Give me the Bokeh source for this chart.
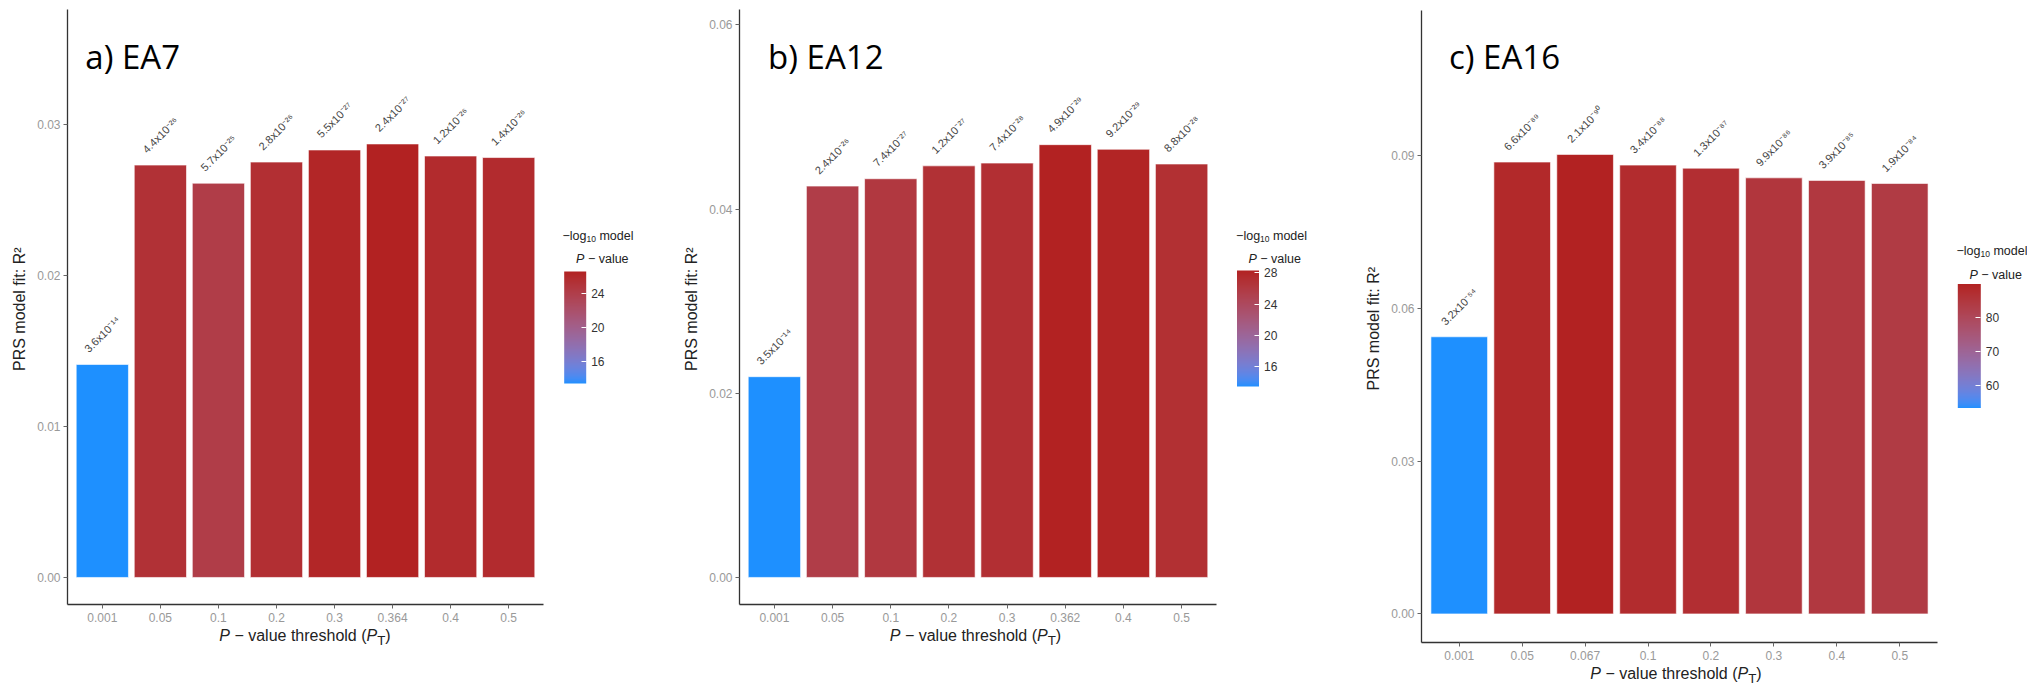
import math
from bokeh.plotting import figure
from bokeh.layouts import row, column
from bokeh.models import (ColumnDataSource, FactorRange, Range1d, FixedTicker,
                          NumeralTickFormatter, LinearColorMapper, ColorBar, Label,
                          BasicTickFormatter, Div, Spacer)
from bokeh.transform import transform
from bokeh.core.properties import value
from bokeh.embed import file_html
from bokeh.resources import INLINE

# ---------------- data ----------------
thresholds_a = ["0.001", "0.05", "0.1", "0.2", "0.3", "0.364", "0.4", "0.5"]
r2_a = [0.0141, 0.0273, 0.0261, 0.0275, 0.0283, 0.0287, 0.0279, 0.0278]
p_mant_a = [3.6, 4.4, 5.7, 2.8, 5.5, 2.4, 1.2, 1.4]
p_exp_a = [-14, -26, -25, -26, -27, -27, -26, -26]

thresholds_b = ["0.001", "0.05", "0.1", "0.2", "0.3", "0.362", "0.4", "0.5"]
r2_b = [0.0218, 0.0425, 0.0433, 0.0447, 0.0450, 0.0470, 0.0465, 0.0449]
p_mant_b = [3.5, 2.4, 7.4, 1.2, 7.4, 4.9, 9.2, 8.8]
p_exp_b = [-14, -26, -27, -27, -28, -29, -29, -28]

thresholds_c = ["0.001", "0.05", "0.067", "0.1", "0.2", "0.3", "0.4", "0.5"]
r2_c = [0.0544, 0.0887, 0.0902, 0.0881, 0.0875, 0.0856, 0.0851, 0.0845]
p_mant_c = [3.2, 6.6, 2.1, 3.4, 1.3, 9.9, 3.9, 1.9]
p_exp_c = [-54, -89, -90, -88, -87, -86, -85, -84]

yticks_a = [0.0, 0.01, 0.02, 0.03]
yticks_b = [0.0, 0.02, 0.04, 0.06]
yticks_c = [0.0, 0.03, 0.06, 0.09]
cticks_a = [16, 20, 24]
cticks_b = [16, 20, 24, 28]
cticks_c = [60, 70, 80]

# ---------------- colour helpers (CIELAB gradient, like ggplot) ----------------
def _lin(c):
    c = c / 255.0
    return c / 12.92 if c <= 0.04045 else ((c + 0.055) / 1.055) ** 2.4

def rgb2lab(rgb):
    r, g, b = [_lin(c) for c in rgb]
    X = (0.4124 * r + 0.3576 * g + 0.1805 * b) / 0.95047
    Y = 0.2126 * r + 0.7152 * g + 0.0722 * b
    Z = (0.0193 * r + 0.1192 * g + 0.9505 * b) / 1.08883
    f = lambda t: t ** (1 / 3) if t > 0.008856 else 7.787 * t + 16 / 116
    fx, fy, fz = f(X), f(Y), f(Z)
    return (116 * fy - 16, 500 * (fx - fy), 200 * (fy - fz))

def lab2hex(L, a, b):
    fy = (L + 16) / 116
    fx = fy + a / 500
    fz = fy - b / 200
    finv = lambda t: t ** 3 if t ** 3 > 0.008856 else (t - 16 / 116) / 7.787
    X = finv(fx) * 0.95047
    Y = finv(fy)
    Z = finv(fz) * 1.08883
    r = 3.2406 * X - 1.5372 * Y - 0.4986 * Z
    g = -0.9689 * X + 1.8758 * Y + 0.0415 * Z
    bb = 0.0557 * X - 0.2040 * Y + 1.0570 * Z
    def gam(c):
        c = max(0.0, min(1.0, c))
        return 12.92 * c if c <= 0.0031308 else 1.055 * c ** (1 / 2.4) - 0.055
    return "#%02x%02x%02x" % tuple(int(round(gam(c) * 255)) for c in (r, g, bb))

LOW = rgb2lab((30, 144, 255))    # dodgerblue
HIGH = rgb2lab((178, 34, 34))    # firebrick
N = 256
palette = [lab2hex(*[LOW[k] + (HIGH[k] - LOW[k]) * i / (N - 1) for k in range(3)]) for i in range(N)]

SUP = str.maketrans("-0123456789", "⁻⁰¹²³⁴⁵⁶⁷⁸⁹")
FONT = "Liberation Sans"

ARIAL = {" ": 278, "−": 584, "v": 500, "a": 556, "l": 222, "u": 556, "e": 556,
         "o": 556, "d": 556, "P": 667, "g": 556, "m": 833, "1": 556, "0": 556}

def tw(s, size):
    return sum(ARIAL.get(ch, 556) for ch in s) / 1000.0 * size


def add_pieces(p, pieces, x0, y):
    """Left-to-right text pieces; leading spaces become an explicit advance (SVG trims them)."""
    x = x0
    for txt, style, size, dy in pieces:
        lead = len(txt) - len(txt.lstrip(" "))
        x += tw(" " * lead, size)
        body = txt.lstrip(" ")
        p.add_layout(Label(x=x, y=y + dy, x_units="screen", y_units="screen", text=body,
                           text_font=FONT, text_font_size=f"{size}px",
                           text_font_style=style, text_color="#222222",
                           text_align="left", text_baseline="middle"))
        x += tw(body, size)


def make_panel(cats, r2, mant, expo, yticks, cticks, title, y_start, y_end,
               frame_w, frame_h, b_left, b_right, b_top, b_bottom,
               title_dx, title_dy, div_h,
               leg_w, leg_top, leg_h, cb_x, cb_y, cb_w, cb_h, lt1_x, lt1_y, lt2_x, lt2_y):
    nlp = [-(math.log10(m) + e) for m, e in zip(mant, expo)]
    labels = [f"{m}x10{str(e).translate(SUP)}" for m, e in zip(mant, expo)]
    src = ColumnDataSource(dict(cat=cats, r2=r2, nlp=nlp, lab=labels))
    mapper = LinearColorMapper(palette=palette, low=min(nlp), high=max(nlp))

    p = figure(x_range=FactorRange(factors=cats, range_padding=0.1, range_padding_units="absolute"),
               y_range=Range1d(y_start, y_end),
               frame_width=frame_w, frame_height=frame_h,
               min_border_left=b_left, min_border_right=b_right,
               min_border_top=b_top, min_border_bottom=b_bottom,
               output_backend="svg", toolbar_location=None)
    p.outline_line_color = None
    p.xgrid.grid_line_color = None
    p.ygrid.grid_line_color = None

    p.vbar(x="cat", top="r2", bottom=0, width=0.9, source=src,
           fill_color=transform("nlp", mapper), line_color="white", line_alpha=0.6, line_width=1)
    p.text(x="cat", y="r2", text="lab", source=src, angle=math.pi / 4,
           text_align="center", text_baseline="middle", y_offset=-30,
           text_font=value(FONT), text_font_size="11px", text_color="#444444")

    for ax in (p.xaxis[0], p.yaxis[0]):
        ax.axis_line_color = "#333333"
        ax.axis_line_width = 1.3
        ax.major_tick_line_color = "#666666"
        ax.major_tick_out = 4
        ax.major_tick_in = 0
        ax.minor_tick_line_color = None
        ax.major_label_text_color = "#999999"
        ax.major_label_text_font = FONT
        ax.major_label_text_font_size = "12px"
    p.xaxis.major_label_standoff = 4
    p.yaxis.major_label_standoff = 3
    p.yaxis.ticker = FixedTicker(ticks=yticks)
    p.yaxis.formatter = NumeralTickFormatter(format="0.00")
    p.yaxis.axis_label = "PRS model fit:  R²"
    p.yaxis.axis_label_text_font = FONT
    p.yaxis.axis_label_text_font_size = "16px"
    p.yaxis.axis_label_text_font_style = "normal"
    p.yaxis.axis_label_text_color = "#222222"
    p.yaxis.axis_label_standoff = 6
    p.xaxis.axis_label = None

    # panel title (inside the frame)
    p.add_layout(Label(x=title_dx, y=frame_h - title_dy, x_units="screen", y_units="screen",
                       text=title, text_font="Open Sans", text_font_size="33px",
                       text_color="black", text_baseline="alphabetic", text_align="left"))

    # legend: a small axis-less figure holding the colour bar and its title
    leg = figure(width=leg_w, height=leg_h, x_axis_type=None, y_axis_type=None,
                 x_range=Range1d(0, 1), y_range=Range1d(0, 1),
                 min_border=0, min_border_left=0, min_border_right=0,
                 min_border_top=0, min_border_bottom=0,
                 output_backend="svg", toolbar_location=None)
    leg.outline_line_color = None
    leg.xgrid.grid_line_color = None
    leg.ygrid.grid_line_color = None
    cb = ColorBar(color_mapper=mapper, location=(cb_x, cb_y), width=cb_w, height=cb_h,
                  padding=0, margin=0, ticker=FixedTicker(ticks=cticks),
                  formatter=BasicTickFormatter(),
                  major_label_text_font=FONT, major_label_text_font_size="12px",
                  major_label_text_color="#333333", label_standoff=5,
                  major_tick_line_color="white", major_tick_in=5, major_tick_out=0,
                  minor_tick_line_color=None, bar_line_color=None, border_line_color=None,
                  background_fill_alpha=0)
    leg.add_layout(cb)
    add_pieces(leg, [("−log", "normal", 12.5, 0), ("10", "normal", 8.5, -3),
                     (" model", "normal", 12.5, 0)], lt1_x, lt1_y)
    add_pieces(leg, [("P", "italic", 12.5, 0), (" − value", "normal", 12.5, 0)], lt2_x, lt2_y)
    legend_col = column(Spacer(width=leg_w, height=leg_top, margin=0), leg, margin=0)

    # x-axis title below the figure (italic P, subscript T)
    div = Div(text='<i>P</i> − value threshold (<i>P</i><sub>T</sub>)',
              width=frame_w, height=div_h, margin=0,
              styles={"font-family": "'Liberation Sans', Arial, sans-serif", "font-size": "16px",
                      "color": "#222222", "text-align": "center", "line-height": "16px",
                      "white-space": "nowrap"})
    bottom = row(Spacer(width=b_left, height=div_h, margin=0), div, margin=0)
    return column(row(p, legend_col, margin=0), bottom, margin=0)


pa = make_panel(thresholds_a, r2_a, p_mant_a, p_exp_a, yticks_a, cticks_a, "a) EA7",
                -0.00179, 0.0376, 476, 595, 67, 12, 9, 24,
                17.8, 46.5, 61,
                125, 220, 175, 8.7, 12, 22, 112, 7, 160, 20.6, 137)
pb = make_panel(thresholds_b, r2_b, p_mant_b, p_exp_b, yticks_b, cticks_b, "b) EA12",
                -0.00294, 0.06168, 477, 595, 57, 14, 9, 24,
                28.6, 46.5, 61,
                132, 220, 175, 6.5, 9, 22, 116, 5.6, 160, 17.9, 137)
pc = make_panel(thresholds_c, r2_c, p_mant_c, p_exp_c, yticks_c, cticks_c, "c) EA16",
                -0.00561, 0.11845, 516, 632, 56, 13, 10, 24,
                27.5, 45.5, 23,
                82, 235, 180, 7.3, 7.5, 23, 124, 6, 164.6, 19, 140.4)

layout = row(pa, pb, pc, margin=0)
open("out.html", "w").write(file_html(layout, INLINE))
